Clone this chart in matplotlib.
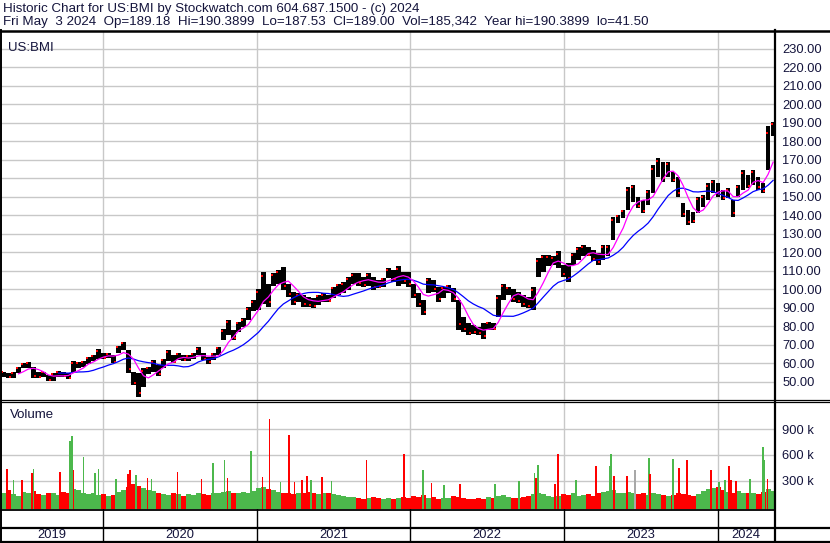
import matplotlib

matplotlib.use("Agg")
import matplotlib.pyplot as plt
import numpy as np
import pandas as pd
from matplotlib.lines import Line2D

plt.rcParams["font.family"] = ["Liberation Sans", "DejaVu Sans"]

# -- data ------------------------------------------------------------------
# Price bars are grouped in bins of ~8 trading days, starting early May 2019.
START = 2019.338          # first bin (fractional year)
BIN_YEARS = 0.0325        # length of one bin in years
X_END = 2024.365          # right edge of the plot (fractional year)

price_lo = [
    52.5, 52, 52, 54.5, 57.5, 57.5, 52, 52, 52.5, 50.5,
    50.5, 52.5, 52.5, 51.5, 55.5, 57.5, 58, 59.5, 61, 62.5,
    62.5, 63, 60, 65.3, 67, 54.5, 48, 41.5, 47.3, 54,
    55.5, 53, 57.5, 61, 60, 61.7, 61, 61, 62, 64.5,
    61.7, 59.8, 61.7, 64.5, 72.5, 75, 72.5, 77, 79.5, 83.4,
    88, 89, 92, 90.5, 102, 103, 99.5, 96, 91.5, 93,
    90.5, 90.5, 90, 91.5, 93, 93, 95.5, 97, 97.8, 99.5,
    103, 102, 101.4, 102, 99.5, 100.5, 101.4, 105.9, 104, 102,
    103, 101.4, 95, 90.5, 86, 97.8, 98.7, 93.3, 95, 97.8,
    93.3, 78, 77, 75.2, 76, 75.2, 73, 78, 78, 85,
    94.2, 97, 93.3, 92.4, 90.6, 89.7, 88.8, 106.8, 109.5, 112.3,
    113.2, 111.4, 106.8, 104.1, 113.2, 115.9, 117.7, 117.7, 115, 113.2,
    115.9, 117.7, 126.7, 135.7, 138.4, 142.9, 147.4, 143.8, 141.1, 145.6,
    152, 160.9, 158.2, 160.9, 158.2, 150.1, 139.3, 134.8, 135.7, 141.1,
    144.7, 148.3, 151.9, 150.1, 148.3, 149.2, 139.3, 150.1, 153.7, 154.6,
    156.4, 153.7, 151.9, 164.5, 183,
]
price_hi = [
    55.5, 54.5, 55, 58, 60, 60.5, 58, 55, 55.5, 53.5,
    54.5, 56, 55, 54.5, 61, 60.5, 61, 63.5, 64.5, 67.5,
    65.3, 65.3, 64.5, 69.3, 71.5, 67, 55.5, 54.5, 57.5, 58,
    61.7, 59, 62.5, 67, 64.5, 65.3, 64.5, 64.5, 65.3, 68.5,
    65.3, 63.5, 65.3, 69, 78.5, 83.4, 78, 82.5, 84.3, 90.5,
    94.2, 100, 109.5, 103, 109, 110.5, 112, 103, 98.7, 97.8,
    97, 96, 95, 97, 97.8, 97, 101.4, 103, 104, 106.8,
    108.6, 108.6, 106.8, 108.6, 106.8, 105, 106, 111.3, 110.4, 112.6,
    109.5, 109.5, 103, 97.8, 94.2, 106, 105, 101.4, 101.4, 102.3,
    100.5, 94.2, 85.2, 81.6, 80.6, 79.7, 81.6, 82.5, 81.6, 97,
    103, 101.4, 100, 98.7, 97, 96, 101.4, 116.8, 118.6, 118.6,
    117.7, 120.4, 113.2, 114, 119.5, 123, 124, 123, 121.3, 119.5,
    124, 124, 139.3, 140.2, 142.9, 155.5, 156.4, 150.1, 148.3, 153.7,
    167, 170.8, 169, 169, 163.6, 160.9, 146.5, 142.9, 142, 150.1,
    151, 157.3, 159.1, 157.3, 153.7, 154.6, 148.3, 156.4, 164.5, 161.8,
    164.5, 160.9, 157.3, 188, 190.4,
]

# typical volume per price bin (thousands of shares)
vol_base = [
    160, 190, 140, 120, 170, 150, 180, 140, 130, 160,
    150, 130, 170, 150, 200, 190, 160, 140, 150, 130,
    140, 120, 130, 170, 190, 230, 260, 240, 210, 190,
    180, 150, 140, 130, 150, 140, 120, 140, 130, 150,
    140, 130, 150, 160, 170, 180, 150, 160, 170, 160,
    180, 210, 230, 200, 190, 170, 150, 160, 140, 150,
    160, 170, 150, 140, 160, 150, 140, 130, 120, 110,
    110, 100, 90, 100, 110, 100, 90, 100, 90, 100,
    110, 100, 120, 110, 130, 100, 110, 90, 100, 100,
    120, 110, 100, 90, 90, 100, 90, 110, 100, 120,
    130, 110, 100, 100, 110, 120, 140, 160, 140, 120,
    110, 120, 140, 130, 150, 120, 130, 140, 120, 150,
    170, 180, 190, 160, 150, 170, 160, 140, 150, 130,
    150, 140, 130, 120, 130, 150, 140, 130, 120, 140,
    180, 200, 210, 220, 190, 170, 160, 180, 160, 150,
    150, 140, 170, 200, 180,
]

# single heavy-volume days: date (fractional year), volume (k), up/down/flat
spike_date = [
    2019.375, 2019.420, 2019.474, 2019.539, 2019.550, 2019.721, 2019.788,
    2019.799, 2019.810, 2019.875, 2019.948, 2019.972, 2020.085, 2020.163,
    2020.176, 2020.215, 2020.291, 2020.317, 2020.486, 2020.641, 2020.717,
    2020.791, 2020.810, 2020.966, 2021.039, 2021.085, 2021.156, 2021.213,
    2021.247, 2021.297, 2021.330, 2021.356, 2021.427, 2021.487, 2021.715,
    2021.961, 2022.083, 2022.137, 2022.217, 2022.323, 2022.552, 2022.708,
    2022.808, 2022.817, 2022.832, 2022.942, 2022.959, 2023.078, 2023.208,
    2023.297, 2023.304, 2023.323, 2023.410, 2023.459, 2023.552, 2023.559,
    2023.708, 2023.747, 2023.797, 2023.801, 2023.955, 2024.009, 2024.048,
    2024.072, 2024.085, 2024.117, 2024.208, 2024.295, 2024.299, 2024.323,
]
spike_vol = [
    438, 304, 311, 388, 438, 400, 765,
    823, 420, 573, 388, 438, 323, 380,
    420, 362, 335, 323, 400, 323, 504,
    542, 335, 650, 342, 1015, 285, 835,
    285, 311, 350, 311, 342, 296, 535,
    611, 427, 277, 254, 265, 265, 292,
    388, 335, 477, 265, 604, 311, 465,
    465, 604, 358, 358, 427, 565, 373,
    554, 450, 408, 535, 419, 285, 304,
    473, 304, 292, 315, 696, 535, 323,
]
spike_dir = list(
    "rgrrgrg" "grggggr" "rgrgrrg"
    "grgrrgr" "rrrgrgr" "rgrgrgg"
    "grgrrgr" "ggrrxgr" "grgrrgg"
    "rrrgggr"
)

YEARS = [2019, 2020, 2021, 2022, 2023, 2024]
PRICE_TICKS = np.arange(50, 231, 10)
VOL_TICKS = [300, 600, 900]

# -- styling ----------------------------------------------------------------
W, H = 830, 543
TXT = "#14143c"
GRID = "#c8c8c8"
UP, DOWN, FLAT = "#4cb84c", "#ff0000", "#a8a8a8"
VOL_FLOOR = -31  # volume axis bottom (k)


def fx(px):
    return px / W


def fy(py):
    return 1 - py / H


def hline(py, x0, x1, lw):
    fig.add_artist(Line2D([fx(x0), fx(x1)], [fy(py), fy(py)],
                          color="black", lw=lw, transform=fig.transFigure))


def vline(px, y0, y1, lw):
    fig.add_artist(Line2D([fx(px), fx(px)], [fy(y0), fy(y1)],
                          color="black", lw=lw, transform=fig.transFigure))


lo = np.array(price_lo)
hi = np.array(price_hi)
mid = (lo + hi) / 2
x = START + (np.arange(len(lo)) + 0.5) * BIN_YEARS
ma_fast = pd.Series(mid).rolling(4).mean()
ma_slow = pd.Series(mid).rolling(12).mean()
down = np.r_[False, np.diff(mid) < 0]

fig = plt.figure(figsize=(W / 100, H / 100), dpi=100)

# -- price panel --------------------------------------------------------------
ax = fig.add_axes([fx(1), fy(400), fx(774) - fx(1), (400 - 31) / H])
ax.set_xlim(START, X_END)
ax.set_ylim(40.1, 239.6)
ax.set_xticks(YEARS[1:])
ax.set_yticks(PRICE_TICKS)
ax.grid(True, color=GRID, lw=1.0)
ax.set_axisbelow(True)
ax.tick_params(axis="x", length=0, labelbottom=False)
ax.yaxis.tick_right()
ax.tick_params(axis="y", length=0, pad=6, labelsize=9.3, labelcolor=TXT)
ax.set_yticklabels([f"{v:.2f}" for v in PRICE_TICKS])
for s in ax.spines.values():
    s.set_visible(False)

ax.bar(x, hi - lo, bottom=lo, width=BIN_YEARS * 0.92, color="black",
       linewidth=0, zorder=2)
ax.scatter(x[down] + BIN_YEARS * 0.25, lo[down] + 0.2 * (hi - lo)[down],
           s=4, marker="s", color="red", linewidths=0, zorder=3)
ax.scatter(x[~down] - BIN_YEARS * 0.25, hi[~down] - 0.15 * (hi - lo)[~down],
           s=3, marker="s", color="red", linewidths=0, zorder=3)
ax.plot(x, ma_slow, color="#0000ff", lw=0.9, zorder=4)
ax.plot(x, ma_fast, color="#ff00ff", lw=0.9, zorder=4)
ax.text(0.009, 0.97, "US:BMI", transform=ax.transAxes, ha="left", va="top",
        fontsize=9.5, color=TXT)

# -- volume panel -------------------------------------------------------------
av = fig.add_axes([fx(1), fy(509), fx(774) - fx(1), (509 - 402) / H])
av.set_xlim(START, X_END)
av.set_ylim(VOL_FLOOR, 1215)
av.set_xticks(YEARS[1:])
av.set_yticks(VOL_TICKS)
av.grid(True, color=GRID, lw=1.0)
av.set_axisbelow(True)
av.tick_params(axis="x", length=0, labelbottom=False)
av.yaxis.tick_right()
av.tick_params(axis="y", length=0, pad=6, labelsize=9.3, labelcolor=TXT)
av.set_yticklabels([f"{v} k" for v in VOL_TICKS])
for s in av.spines.values():
    s.set_visible(False)

vb = np.array(vol_base)
av.bar(x, vb - VOL_FLOOR, bottom=VOL_FLOOR, width=BIN_YEARS,
       color=np.where(down, DOWN, UP), linewidth=0, zorder=2)
cmap = {"g": UP, "r": DOWN, "x": FLAT}
av.bar(spike_date, np.array(spike_vol) - VOL_FLOOR, bottom=VOL_FLOOR,
       width=0.011, color=[cmap[c] for c in spike_dir], linewidth=0,
       zorder=3)
av.text(0.011, 0.93, "Volume", transform=av.transAxes, ha="left", va="top",
        fontsize=9.5, color=TXT)

# -- year strip ---------------------------------------------------------------
ay = fig.add_axes([fx(1), fy(542), fx(774) - fx(1), (542 - 509) / H])
ay.set_xlim(START, X_END)
ay.set_ylim(0, 1)
ay.axis("off")
for yr in YEARS[1:]:
    ay.axvline(yr, color="black", lw=1.0)
edges = [START] + YEARS[1:] + [X_END]
for yr, a, b in zip(YEARS, edges[:-1], edges[1:]):
    ay.text((a + b) / 2, 0.2, str(yr), ha="center", va="center",
            fontsize=9.3, color=TXT)

# -- title and frame ----------------------------------------------------------
fig.text(fx(3), fy(9), "Historic Chart for US:BMI by Stockwatch.com "
         "604.687.1500 - (c) 2024", ha="left", va="center", fontsize=9.6,
         color=TXT)
fig.text(fx(3), fy(22), "Fri May  3 2024  Op=189.18  Hi=190.3899  "
         "Lo=187.53  Cl=189.00  Vol=185,342  Year hi=190.3899  lo=41.50",
         ha="left", va="center", fontsize=9.6, color=TXT)

hline(30.5, 0, W, 1.8)
hline(399.5, 0, W, 0.9)
hline(401.8, 0, W, 0.9)
hline(509.5, 0, 774, 1.3)
hline(527.5, 0, W, 1.6)
hline(541.8, 0, W, 1.6)
vline(774.5, 30, H, 1.6)
vline(0.8, 30, H, 1.4)

fig.savefig("out.png", dpi=100, facecolor="white")
